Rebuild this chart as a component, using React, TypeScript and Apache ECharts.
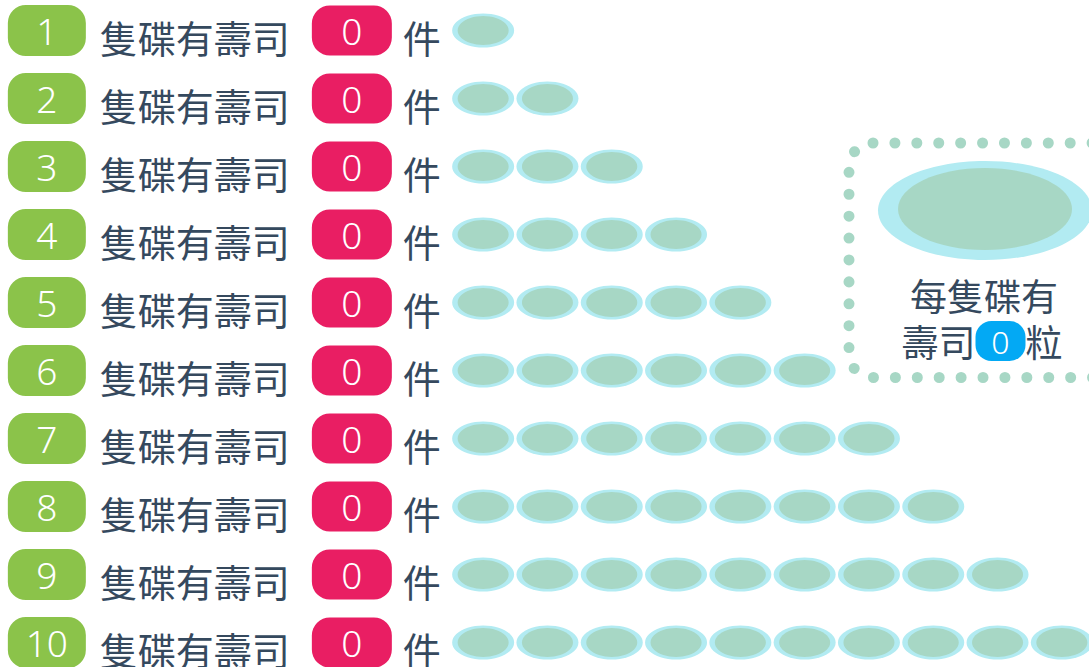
import React, { useEffect, useRef } from 'react';
import * as echarts from 'echarts';

// ---- data ----
const rowNumbers = ['1', '2', '3', '4', '5', '6', '7', '8', '9', '10'];
const plateCounts = [1, 2, 3, 4, 5, 6, 7, 8, 9, 10];
const sushiAnswers = [0, 0, 0, 0, 0, 0, 0, 0, 0, 0];
const rowText = '隻碟有壽司';
const unitText = '件';
const legendLine1 = '每隻碟有';
const legendLine2a = '壽司';
const legendValue = 0;
const legendLine2b = '粒';

const CJK = '"Noto Sans CJK TC", "Noto Sans CJK SC", sans-serif';
const DIGIT = '"Noto Sans", "Open Sans", sans-serif';
const TEXT_COLOR = '#35495e';
const GREEN = '#8bc34a';
const PINK = '#e91e63';
const BLUE = '#03a9f4';
const PLATE_OUTER = '#b2ebf2';
const PLATE_INNER = '#a7d7c5';

export default function App() {
  const ref = useRef<HTMLDivElement>(null);

  useEffect(() => {
    if (!ref.current) return;
    const chart = echarts.init(ref.current, undefined, { renderer: 'svg' });

    const plateData: [number, number][] = [];
    plateCounts.forEach((n, row) => {
      for (let k = 1; k <= n; k++) plateData.push([k, row]);
    });

    chart.setOption({
      animation: false,
      grid: {
        left: 418.85,
        width: 643,
        top: -3.5,
        height: 680,
        outerBoundsMode: 'none',
        containLabel: false,
      },
      xAxis: {
        type: 'value',
        min: 0,
        max: 10,
        show: false,
      },
      yAxis: {
        type: 'category',
        inverse: true,
        data: rowNumbers,
        axisLine: { show: false },
        axisTick: { show: false },
        splitLine: { show: false },
        axisLabel: {
          interval: 0,
          margin: 411,
          align: 'left',
          verticalAlign: 'middle',
          formatter: (value: string, index: number) =>
            `{badge|${value}}{sp1| }{txt|${rowText}}{sp2| }{pill|${sushiAnswers[index]}}{sp3| }{unit|${unitText}}`,
          rich: {
            badge: {
              width: 78,
              height: 51,
              backgroundColor: GREEN,
              borderRadius: 18,
              color: '#fff',
              fontSize: 37,
              fontFamily: DIGIT,
              fontWeight: 300,
              align: 'center',
              verticalAlign: 'middle',
            },
            sp1: { width: 14, fontSize: 10 },
            txt: {
              fontSize: 38,
              color: TEXT_COLOR,
              fontFamily: CJK,
              padding: [12, 0, 0, 0],
              verticalAlign: 'middle',
            },
            sp2: { width: 22, fontSize: 10 },
            pill: {
              width: 80,
              height: 50,
              backgroundColor: PINK,
              borderRadius: 18,
              color: '#fff',
              fontSize: 37,
              fontFamily: DIGIT,
              fontWeight: 300,
              align: 'center',
              verticalAlign: 'middle',
            },
            sp3: { width: 11, fontSize: 10 },
            unit: {
              fontSize: 38,
              color: TEXT_COLOR,
              fontFamily: CJK,
              padding: [12, 0, 0, 0],
              verticalAlign: 'middle',
            },
          },
        },
      },
      series: [
        {
          type: 'scatter',
          silent: true,
          symbol: 'circle',
          symbolSize: [62, 34],
          itemStyle: { color: PLATE_OUTER, opacity: 1 },
          data: plateData,
          z: 2,
        },
        {
          type: 'scatter',
          silent: true,
          symbol: 'circle',
          symbolSize: [51, 29],
          itemStyle: { color: PLATE_INNER, opacity: 1 },
          data: plateData,
          z: 3,
        },
      ],
      graphic: [
        {
          type: 'rect',
          silent: true,
          shape: { x: 849, y: 143, width: 290, height: 234.5, r: 24 },
          style: {
            fill: 'none',
            stroke: PLATE_INNER,
            lineWidth: 11,
            lineDash: [0.01, 21.9],
            lineCap: 'round',
          },
        },
        {
          type: 'ellipse',
          silent: true,
          shape: { cx: 985, cy: 210.5, rx: 107, ry: 49.5 },
          style: { fill: PLATE_OUTER },
        },
        {
          type: 'ellipse',
          silent: true,
          shape: { cx: 985, cy: 209, rx: 87, ry: 41 },
          style: { fill: PLATE_INNER },
        },
        {
          type: 'text',
          silent: true,
          style: {
            text: legendLine1,
            x: 984,
            y: 295,
            align: 'center',
            verticalAlign: 'middle',
            fontSize: 37,
            lineHeight: 37,
            fontFamily: CJK,
            fill: TEXT_COLOR,
          },
        },
        {
          type: 'text',
          silent: true,
          style: {
            text: `{t|${legendLine2a}}{p|${legendValue}}{t|${legendLine2b}}`,
            x: 982,
            y: 341,
            align: 'center',
            verticalAlign: 'middle',
            rich: {
              t: {
                fontSize: 37,
                lineHeight: 37,
                fontFamily: CJK,
                fill: TEXT_COLOR,
                verticalAlign: 'middle',
              },
              p: {
                width: 50,
                height: 40,
                lineHeight: 40,
                backgroundColor: BLUE,
                borderRadius: 16,
                fill: '#fff',
                fontSize: 32,
                fontFamily: DIGIT,
                fontWeight: 300,
                align: 'center',
                verticalAlign: 'middle',
              },
            },
          },
        },
      ],
    });

    return () => chart.dispose();
  }, []);

  return (
    <div
      ref={ref}
      style={{ position: 'fixed', left: 0, top: 0, width: 1089, height: 667, background: '#fff' }}
    />
  );
}
